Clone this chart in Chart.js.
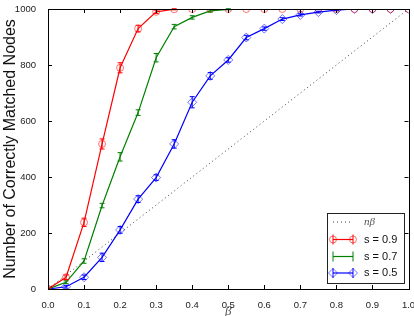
<!DOCTYPE html>
<html lang="en">
  <head>
    <meta charset="utf-8">
    <title>Matched nodes</title>
    <style>
      body{ margin:0; background:#fff; }
      canvas{ display:block; }
    </style>
  </head>
  <body>
    <canvas id="mChart" width="414" height="316"></canvas>
  <script src="https://cdn.jsdelivr.net/npm/chart.js@4/dist/chart.umd.min.js"></script>
  <script>
  // beta values
  var BETA = [0,0.05,0.1,0.15,0.2,0.25,0.3,0.35,0.4,0.45,0.5,0.55,0.6,0.65,0.7,0.75,0.8,0.85,0.9,0.95,1.0];
  var S09 = [0,42,238,518,790,930,990,999,1000,1000,1000,1000,1000,1000,1000,1000,1000,1000,1000,1000,1000];
  var S09_ERR = [0,8,15,18,18,12,6,2,0,0,0,0,0,0,0,0,0,0,0,0,0];
  var S07 = [0,24,100,298,472,630,826,937,970,993,999,1000,1000,1000,1000,1000,1000,1000,1000,1000,1000];
  var S07_ERR = [0,5,8,8,15,10,15,8,6,4,2,0,0,0,0,0,0,0,0,0,0];
  var S05 = [0,8,42,113,211,321,398,518,667,761,818,898,930,964,979,989,996,1000,1000,1000,1000];
  var S05_ERR = [0,5,8,15,12,12,10,15,20,12,8,8,6,5,4,3,2,0,0,0,0];
  var NBETA_X = [0,1];
  var NBETA_Y = [0,1000];
  var X_TICKS = [0,0.1,0.2,0.3,0.4,0.5,0.6,0.7,0.8,0.9,1.0];
  var Y_TICKS = [0,200,400,600,800,1000];

  var SANS = "'Liberation Sans', Arial, Helvetica, sans-serif";
  var SERIF = "'Liberation Serif', 'DejaVu Serif', serif";

  function pts(xs, ys){
    return xs.map(function(x, i){ return {x: x, y: ys[i]}; });
  }

  var SERIES = [
    {label: 's = 0.9', data: S09, err: S09_ERR, color: 'rgb(255,0,0)', mark: 'rgba(255,0,0,0.55)', style: 'circle', r: 3.5},
    {label: 's = 0.7', data: S07, err: S07_ERR, color: 'rgb(0,128,0)', mark: 'rgba(0,128,0,0.8)', style: false, r: 0},
    {label: 's = 0.5', data: S05, err: S05_ERR, color: 'rgb(0,0,255)', mark: 'rgba(0,0,255,0.55)', style: 'rectRot', r: 4.5}
  ];

  var datasets = [{
    label: 'n\u03b2',
    data: pts(NBETA_X, NBETA_Y),
    borderColor: 'rgba(0,0,0,0.75)',
    borderWidth: 1,
    borderDash: [1, 3],
    pointRadius: 0,
    fill: false
  }];
  SERIES.forEach(function(s){
    datasets.push({
      label: s.label,
      data: pts(BETA, s.data),
      err: s.err,
      borderColor: s.color,
      borderWidth: 1.2,
      pointStyle: s.style,
      pointRadius: s.r,
      pointBorderColor: s.mark,
      pointBackgroundColor: 'rgba(255,255,255,0)',
      pointBorderWidth: 1,
      fill: false,
      tension: 0
    });
  });

  function drawMarker(ctx, style, x, y, r, color){
    if(!style || !r) return;
    ctx.save();
    ctx.strokeStyle = color;
    ctx.lineWidth = 1;
    ctx.beginPath();
    if(style === 'circle'){
      ctx.arc(x, y, r, 0, Math.PI * 2);
    } else {
      ctx.moveTo(x, y - r); ctx.lineTo(x + r, y); ctx.lineTo(x, y + r); ctx.lineTo(x - r, y); ctx.closePath();
    }
    ctx.stroke();
    ctx.restore();
  }

  var extras = {
    id: 'extras',
    afterDatasetsDraw: function(chart){
      var ctx = chart.ctx, a = chart.chartArea;
      var xs = chart.scales.x, ys = chart.scales.y;
      ctx.save();
      ctx.beginPath();
      ctx.rect(a.left, a.top - 1, a.right - a.left, a.bottom - a.top + 2);
      ctx.clip();
      chart.data.datasets.forEach(function(ds){
        if(!ds.err) return;
        ctx.strokeStyle = ds.borderColor;
        ctx.lineWidth = 1;
        ds.data.forEach(function(p, i){
          var e = ds.err[i];
          if(!e) return;
          var px = xs.getPixelForValue(p.x);
          var y1 = ys.getPixelForValue(p.y - e), y2 = ys.getPixelForValue(p.y + e);
          ctx.beginPath();
          ctx.moveTo(px, y1); ctx.lineTo(px, y2);
          ctx.moveTo(px - 2.5, y1); ctx.lineTo(px + 2.5, y1);
          ctx.moveTo(px - 2.5, y2); ctx.lineTo(px + 2.5, y2);
          ctx.stroke();
        });
      });
      ctx.restore();
    },
    afterDraw: function(chart){
      var ctx = chart.ctx, a = chart.chartArea;
      var xs = chart.scales.x, ys = chart.scales.y;
      ctx.save();
      ctx.strokeStyle = '#000';
      ctx.lineWidth = 1;
      // inward ticks on all four sides
      ctx.beginPath();
      X_TICKS.forEach(function(v){
        var px = Math.round(xs.getPixelForValue(v)) + 0.5;
        ctx.moveTo(px, a.bottom); ctx.lineTo(px, a.bottom - 4);
        ctx.moveTo(px, a.top); ctx.lineTo(px, a.top + 4);
      });
      Y_TICKS.forEach(function(v){
        var py = Math.round(ys.getPixelForValue(v)) + 0.5;
        ctx.moveTo(a.left, py); ctx.lineTo(a.left + 4, py);
        ctx.moveTo(a.right, py); ctx.lineTo(a.right - 4, py);
      });
      ctx.stroke();
      ctx.strokeRect(Math.round(a.left) + 0.5, Math.round(a.top) + 0.5, Math.round(a.right - a.left), Math.round(a.bottom - a.top));

      // legend
      var lx = 327, ly = 213, lw = 77, lh = 70;
      ctx.fillStyle = '#fff';
      ctx.fillRect(lx, ly, lw, lh);
      ctx.strokeStyle = '#222';
      ctx.strokeRect(lx + 0.5, ly + 0.5, lw, lh);
      var rows = [222, 239.5, 256.5, 273];
      var h1 = 333, h2 = 353;
      ctx.textBaseline = 'middle';
      chart.data.datasets.forEach(function(ds, i){
        var y = rows[i];
        ctx.strokeStyle = ds.borderColor;
        ctx.lineWidth = ds.borderWidth;
        ctx.setLineDash(ds.borderDash || []);
        ctx.beginPath();
        ctx.moveTo(h1, y); ctx.lineTo(h2, y);
        ctx.stroke();
        ctx.setLineDash([]);
        if(ds.err){
          ctx.lineWidth = 1;
          ctx.beginPath();
          [h1, h2].forEach(function(hx){
            ctx.moveTo(hx, y - 5); ctx.lineTo(hx, y + 5);
          });
          ctx.stroke();
          var s = SERIES[i - 1];
          drawMarker(ctx, s.style, h1, y, s.r, s.mark);
          drawMarker(ctx, s.style, h2, y, s.r, s.mark);
        }
        if(i === 0){
          ctx.fillStyle = '#555';
          ctx.font = 'italic 11px ' + SERIF;
        } else {
          ctx.fillStyle = '#111';
          ctx.font = '11px ' + SANS;
        }
        ctx.fillText(ds.label, 364, y);
      });
      ctx.restore();
    }
  };

  var ctx = document.getElementById('mChart').getContext('2d');
  var chart = new Chart(ctx, {
    type: 'line',
    data: { datasets: datasets },
    plugins: [extras],
    options: {
      responsive: false,
      devicePixelRatio: 1,
      animation: false,
      layout: { padding: { top: 9, right: 5, left: 0, bottom: 0 } },
      plugins: { legend: { display: false }, tooltip: { enabled: false } },
      scales: {
        x: {
          type: 'linear', min: 0, max: 1,
          grid: { display: false },
          border: { display: false },
          afterBuildTicks: function(s){ s.ticks = X_TICKS.map(function(v){ return {value: v}; }); },
          afterFit: function(s){ s.height = 27; s.paddingLeft = 0; s.paddingRight = 0; },
          ticks: {
            padding: 3, color: '#222', maxRotation: 0, autoSkip: false,
            font: { family: SANS, size: 9.5 },
            callback: function(v){ return Number(v).toFixed(1); }
          },
          title: {
            display: true, text: '\u03b2', color: '#555',
            font: { family: SERIF, style: 'italic', size: 13 },
            padding: { top: 0, bottom: -3 }
          }
        },
        y: {
          min: 0, max: 1000,
          grid: { display: false },
          border: { display: false },
          afterBuildTicks: function(s){ s.ticks = Y_TICKS.map(function(v){ return {value: v}; }); },
          afterFit: function(s){ s.width = 48; s.paddingTop = 0; s.paddingBottom = 0; },
          ticks: {
            padding: 4, color: '#222',
            font: { family: SANS, size: 9.5 },
            callback: function(v){ return String(v); }
          },
          title: {
            display: true, text: 'Number of Correctly Matched Nodes', color: '#111',
            font: { family: SANS, size: 16 },
            padding: { top: 1, bottom: 0 }
          }
        }
      }
    }
  });
  </script>
  </body>
</html>
